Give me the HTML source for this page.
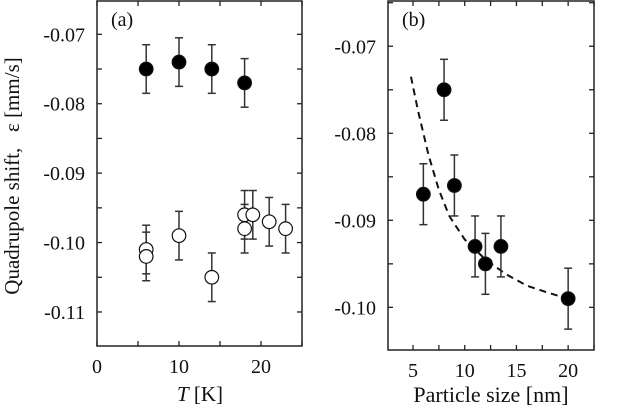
<!DOCTYPE html>
<html><head><meta charset="utf-8"><style>
body{margin:0;background:#fff}
text{font-family:"Liberation Serif","Times New Roman","DejaVu Serif",serif !important;fill:#111}
</style></head><body>
<svg width="620" height="410" font-family="Liberation Serif, DejaVu Serif, serif">
<g id="ga"></g>
<g id="gb"></g>
<text transform="translate(19,176) rotate(-90)" text-anchor="middle" font-size="21" font-family="Liberation Serif, serif" xml:space="preserve">Quadrupole shift,   ε [mm/s]</text>
</svg>
<script>
const aFilledT=[6,10,14,18];
const aFilledE=[-0.075,-0.074,-0.075,-0.077];
const aOpenT=[6,6,10,14,18,18,19,21,23];
const aOpenE=[-0.101,-0.102,-0.099,-0.105,-0.096,-0.098,-0.096,-0.097,-0.098];
const aErr=0.0035;
const bSize=[6,8,9,11,12,13.5,20];
const bE=[-0.087,-0.075,-0.086,-0.093,-0.095,-0.093,-0.099];
const bErr=0.0035;
const fitX=[4.8,5.5,6.5,7.5,8.5,10,12,14,16,18,20];
const fitY=[-0.0735,-0.0775,-0.0825,-0.0865,-0.0895,-0.0922,-0.0945,-0.0962,-0.0975,-0.0983,-0.099];
const aXTickLabels=["0","10","20"];
const aYTickLabels=["-0.07","-0.08","-0.09","-0.10","-0.11"];
const bXTickLabels=["5","10","15","20"];
const bYTickLabels=["-0.07","-0.08","-0.09","-0.10"];
const NS="http://www.w3.org/2000/svg";
const FF="Liberation Serif, DejaVu Serif, serif";
function mk(p,t,a){const e=document.createElementNS(NS,t);for(const k in a)e.setAttribute(k,a[k]);if(t==='text')e.setAttribute('font-family',FF);p.appendChild(e);return e;}
function panel(g,L,R,T,B,x0,x1,y0,y1,xt,xtStep,xminor,yt,ytStart,yminor,label,labX){
  const sx=v=>L+(v-x0)/(x1-x0)*(R-L), sy=v=>B-(v-y0)/(y1-y0)*(B-T);
  const fr=mk(g,'rect',{x:L,y:T,width:R-L,height:B-T,fill:'none',stroke:'#222','stroke-width':1.5});
  
  for(let v=Math.ceil(x0/xminor)*xminor;v<=x1+1e-9;v+=xminor){const x=sx(v);
    mk(g,'line',{x1:x,x2:x,y1:B,y2:B-5,stroke:'#222','stroke-width':1.3});
    mk(g,'line',{x1:x,x2:x,y1:T,y2:T+5,stroke:'#222','stroke-width':1.3});}
  xt.forEach((s,i)=>{const t=mk(g,'text',{x:sx(parseFloat(s)),y:B+27,'text-anchor':'middle','font-size':20});t.textContent=s;
    });
  for(let v=Math.ceil(y0/yminor-1e-6)*yminor;v<=y1+1e-9;v+=yminor){const y=sy(v);
    mk(g,'line',{x1:L,x2:L+5,y1:y,y2:y,stroke:'#222','stroke-width':1.3});
    mk(g,'line',{x1:R,x2:R-5,y1:y,y2:y,stroke:'#222','stroke-width':1.3});}
  yt.forEach(s=>{const t=mk(g,'text',{x:L-12,y:sy(parseFloat(s))+7,'text-anchor':'end','font-size':20});t.textContent=s;
    });
  const pl=mk(g,'text',{x:L+labX,y:T+25,'font-size':20});pl.textContent=label;
  
  return {sx,sy};
}
function pts(g,s,xs,ys,err,filled,name){
  xs.forEach((x,i)=>{const X=s.sx(x),Y1=s.sy(ys[i]+err),Y2=s.sy(ys[i]-err);
    mk(g,'line',{x1:X,x2:X,y1:Y1,y2:Y2,stroke:'#333','stroke-width':1.5});
    mk(g,'line',{x1:X-4,x2:X+4,y1:Y1,y2:Y1,stroke:'#333','stroke-width':1.5});
    mk(g,'line',{x1:X-4,x2:X+4,y1:Y2,y2:Y2,stroke:'#333','stroke-width':1.5});});
  xs.forEach((x,i)=>{const c=mk(g,'circle',{cx:s.sx(x),cy:s.sy(ys[i]),r:6.8,fill:filled?'#000':'#fff',stroke:'#111','stroke-width':1.2});
    });
}
const ga=document.getElementById('ga'),gb=document.getElementById('gb');
const sa=panel(ga,97,302,1,346,0,25,-0.1149,-0.0652,aXTickLabels,10,5,aYTickLabels,-0.11,0.005,'(a)',14);
pts(ga,sa,aOpenT,aOpenE,aErr,false,'open-point');
pts(ga,sa,aFilledT,aFilledE,aErr,true,'filled-point');
const tA=mk(ga,'text',{x:200,y:401,'text-anchor':'middle','font-size':21});
tA.innerHTML='<tspan font-style="italic">T</tspan> [K]';

const sb=panel(gb,388,594,1,350,2.58,22.5,-0.1049,-0.0648,bXTickLabels,5,2.5,bYTickLabels,-0.1,0.005,'(b)',14);
const fit=mk(gb,'path',{d:fitX.map((x,i)=>(i?'L':'M')+sb.sx(x)+','+sb.sy(fitY[i])).join(''),fill:'none',stroke:'#111','stroke-width':2,'stroke-dasharray':'7,5'});

pts(gb,sb,bSize,bE,bErr,true,'data-point');
const tB=mk(gb,'text',{x:491,y:402,'text-anchor':'middle','font-size':22});tB.textContent='Particle size [nm]';

</script>
</body></html>
